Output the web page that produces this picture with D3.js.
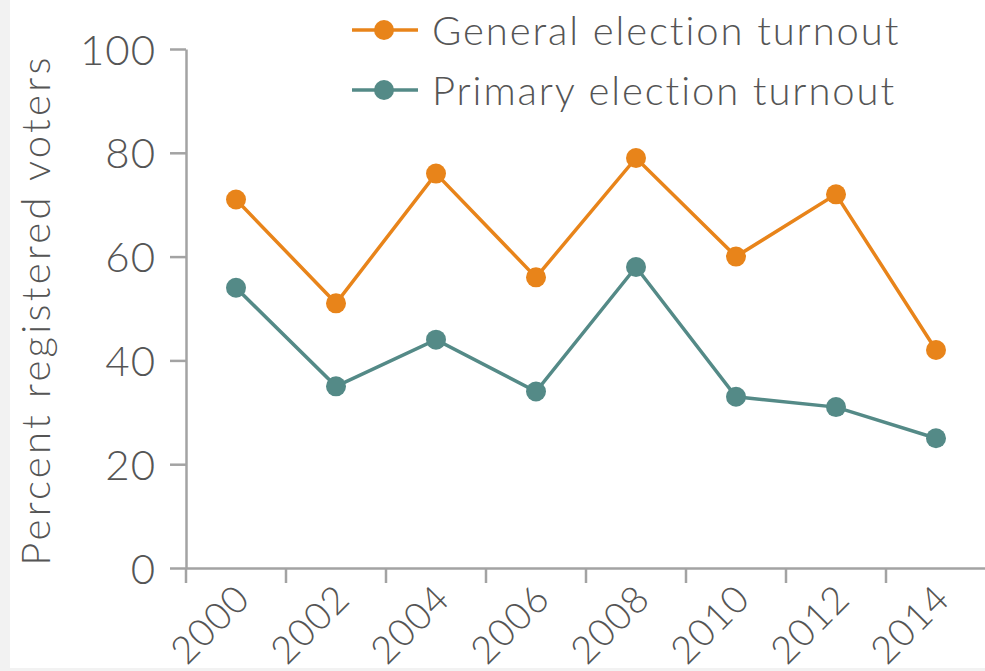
<!DOCTYPE html>
<html lang="en">
<head>
<meta charset="UTF-8">
<title>Election turnout</title>
<script src="https://d3js.org/d3.v7.min.js"></script>
<style>
    html, body { margin: 0; padding: 0; background: #f2f2f2; }
    svg { display: block; }
    text { font-family: Lato, "Open Sans", sans-serif; font-weight: 300; fill: #555; }
    .axis path, .axis line { stroke: #a3a3a3; stroke-width: 2.5; }
</style>
</head>
<body>
<div id="chart"></div>
<script>
    // data
    const years = ["2000", "2002", "2004", "2006", "2008", "2010", "2012", "2014"];
    const generalTurnout = [71, 51, 76, 56, 79, 60, 72, 42];
    const primaryTurnout = [54, 35, 44, 34, 58, 33, 31, 25];
    const yTicks = [0, 20, 40, 60, 80, 100];
    const seriesNames = ["General election turnout", "Primary election turnout"];
    const seriesColors = ["#e8841a", "#548a87"];

    const W = 985, H = 671;

    const svg = d3.select("#chart").append("svg")
        .attr("width", W)
        .attr("height", H);

    // white plot card with a light grey strip on the left and bottom
    svg.append("rect")
        .attr("x", 10).attr("y", 0)
        .attr("width", W - 10).attr("height", 668)
        .attr("fill", "#fff");

    const x = d3.scaleBand().domain(years).range([186, 986]);
    const y = d3.scaleLinear().domain([0, 100]).range([568, 49]);

    // y axis
    const yAxis = svg.append("g")
        .attr("class", "axis")
        .attr("transform", "translate(186,0)")
        .call(d3.axisLeft(y).tickValues(yTicks).tickSize(16).tickSizeOuter(0).tickPadding(14));
    yAxis.selectAll("text")
        .style("font-size", "42px")
        .style("letter-spacing", "1px")
        .attr("dy", "0.36em");

    // x axis: ticks sit on the band edges, labels rotated
    const xAxis = svg.append("g")
        .attr("class", "axis")
        .attr("transform", "translate(0,568)")
        .call(d3.axisBottom(x).tickSize(15).tickSizeOuter(0));
    const bw = x.bandwidth();
    xAxis.selectAll(".tick line")
        .attr("x1", -bw / 2).attr("x2", -bw / 2);
    xAxis.selectAll(".tick text")
        .style("font-size", "38px")
        .style("letter-spacing", "1px")
        .attr("text-anchor", "end")
        .attr("dy", 0)
        .attr("y", 0)
        .attr("transform", "translate(16,33) rotate(-45)");

    // y axis title
    svg.append("text")
        .attr("transform", `translate(50,${(568 + 52) / 2}) rotate(-90)`)
        .attr("text-anchor", "middle")
        .style("font-size", "40px")
        .style("letter-spacing", "3.3px")
        .text("Percent registered voters");

    const cx = d => x(d) + bw / 2;
    const line = d3.line()
        .x((d, i) => cx(years[i]))
        .y(d => y(d));

    [generalTurnout, primaryTurnout].forEach((values, k) => {
        svg.append("path")
            .datum(values)
            .attr("fill", "none")
            .attr("stroke", seriesColors[k])
            .attr("stroke-width", 3.5)
            .attr("d", line);

        svg.selectAll(null)
            .data(values)
            .enter().append("circle")
            .attr("cx", (d, i) => cx(years[i]))
            .attr("cy", d => y(d))
            .attr("r", 10)
            .attr("fill", seriesColors[k]);
    });

    // legend
    const legend = svg.append("g").attr("transform", "translate(352,30)");
    seriesNames.forEach((name, k) => {
        const g = legend.append("g").attr("transform", `translate(0,${k * 60})`);
        g.append("line")
            .attr("x1", 0).attr("x2", 66)
            .attr("stroke", seriesColors[k])
            .attr("stroke-width", 3.5);
        g.append("circle")
            .attr("cx", 32).attr("r", 10)
            .attr("fill", seriesColors[k]);
        g.append("text")
            .attr("x", 80).attr("y", 15)
            .style("font-size", "40px")
            .style("letter-spacing", "1.9px")
            .text(name);
    });
</script>
</body>
</html>
